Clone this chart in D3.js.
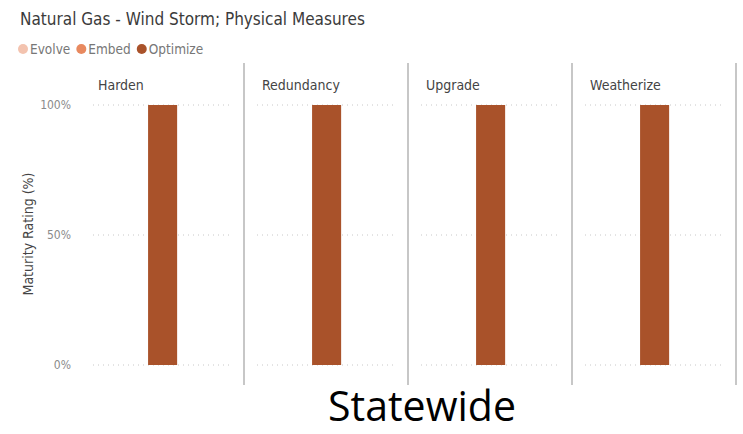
<!DOCTYPE html>
<html>
<head>
<meta charset="utf-8">
<script src="https://cdn.jsdelivr.net/npm/d3@7"></script>
<style>
  body { margin: 0; background: #fff; }
  svg { display: block; }
</style>
</head>
<body>
<div id="chart"></div>
<script>
// data
const categories = ["Harden", "Redundancy", "Upgrade", "Weatherize"];
const seriesNames = ["Evolve", "Embed", "Optimize"];
const evolveValues = [0, 0, 0, 0];
const embedValues = [0, 0, 0, 0];
const optimizeValues = [1, 1, 1, 1];
const yTicks = [0, 0.5, 1];

const colors = ["#F3C3AF", "#E8895F", "#A9522A"];

const width = 743, height = 434;

const svg = d3.select("#chart").append("svg")
    .attr("width", width)
    .attr("height", height);

const font = "'DejaVu Sans Condensed', 'DejaVu Sans', sans-serif";

// title
svg.append("text")
    .attr("x", 20)
    .attr("y", 25)
    .attr("font-family", font)
    .attr("font-size", 17)
    .attr("fill", "#3b3b3b")
    .text("Natural Gas - Wind Storm; Physical Measures");

// legend
let legendX = 23;
seriesNames.forEach(function (name, i) {
    let g = svg.append("g").attr("transform", "translate(" + legendX + ",49)");
    g.append("circle").attr("r", 5).attr("fill", colors[i]);
    let t = g.append("text")
        .attr("x", 7)
        .attr("y", 4.5)
        .attr("font-family", font)
        .attr("font-size", 13.5)
        .attr("fill", "#777")
        .text(name);
    legendX += 7 + t.node().getComputedTextLength() + 11;
});

// table built for stacking
const rows = categories.map(function (c, i) {
    return { cat: c, Evolve: evolveValues[i], Embed: embedValues[i], Optimize: optimizeValues[i] };
});
const stacked = d3.stack().keys(seriesNames)(rows);

// scales
const panel = d3.scaleBand().domain(categories).range([80, 736]);
const inner = d3.scaleBand().domain(["all"]).range([13, 149]).padding(0.648).align(0.515);
const y = d3.scaleLinear().domain([0, 1]).range([365, 105]);

// y axis labels
svg.append("g")
    .attr("transform", "translate(72,0)")
    .call(d3.axisLeft(y).tickValues(yTicks).tickFormat(d3.format(".0%")).tickSize(0))
    .call(g => g.select(".domain").remove())
    .selectAll("text")
    .attr("font-family", font)
    .attr("font-size", 12)
    .attr("fill", "#8a8a8a")
    .attr("dx", 2);

svg.append("text")
    .attr("transform", "translate(33,234) rotate(-90)")
    .attr("text-anchor", "middle")
    .attr("font-family", font)
    .attr("font-size", 14)
    .attr("fill", "#444")
    .text("Maturity Rating (%)");

// panels
categories.forEach(function (cat, i) {
    let px = panel(cat);
    let g = svg.append("g").attr("transform", "translate(" + px + ",0)");

    // dotted gridlines
    yTicks.forEach(function (t) {
        g.append("line")
            .attr("x1", inner.range()[0]).attr("x2", inner.range()[1])
            .attr("y1", y(t)).attr("y2", y(t))
            .attr("stroke", "#c8c8c8")
            .attr("stroke-dasharray", "1,4");
    });

    g.append("text")
        .attr("x", 18)
        .attr("y", 90)
        .attr("font-family", font)
        .attr("font-size", 14)
        .attr("fill", "#444")
        .text(cat);

    // separators
    if (i > 0) {
        g.append("line")
            .attr("x1", 0).attr("x2", 0)
            .attr("y1", 63).attr("y2", 385)
            .attr("stroke", "#b5b5b5").attr("stroke-width", 1.5);
    }
    if (i == categories.length - 1) {
        g.append("line")
            .attr("x1", panel.bandwidth()).attr("x2", panel.bandwidth())
            .attr("y1", 63).attr("y2", 385)
            .attr("stroke", "#b5b5b5").attr("stroke-width", 1.5);
    }

    // bars
    stacked.forEach(function (s, k) {
        let d = s[i];
        if (d[1] - d[0] <= 0) return;
        g.append("rect")
            .attr("x", inner("all"))
            .attr("width", inner.bandwidth())
            .attr("y", y(d[1]))
            .attr("height", y(d[0]) - y(d[1]))
            .attr("fill", colors[k]);
    });
});

// footer label, sized to the width it takes in the picture
let footer = svg.append("text")
    .attr("x", 422)
    .attr("y", 421)
    .attr("text-anchor", "middle")
    .attr("font-family", "'Open Sans', Lato, sans-serif")
    .attr("font-size", 40)
    .attr("fill", "#000")
    .text("Statewide");
let fw = footer.node().getComputedTextLength();
footer.attr("font-size", 40 * 188 / fw);
</script>
</body>
</html>
